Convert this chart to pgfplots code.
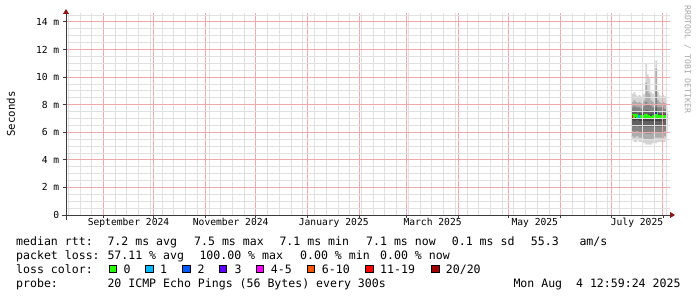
\documentclass[border=0pt]{standalone}
\usepackage{pgfplots}
\pgfplotsset{compat=1.18}
\usepackage{pgfplotstable}
\usepackage{fontspec}
\setmainfont{DejaVu Sans Mono}
\setmonofont{DejaVu Sans Mono}
\usepgfplotslibrary{fillbetween}
\usetikzlibrary{arrows.meta}

\definecolor{mgrid}{RGB}{236,170,170}
\definecolor{ngrid}{RGB}{224,224,224}
\definecolor{arrowred}{RGB}{140,25,25}
\definecolor{axisgray}{RGB}{60,60,60}
\definecolor{loss0}{HTML}{26FF00}
\definecolor{loss1}{HTML}{00B8FF}
\definecolor{loss2}{HTML}{0059FF}
\definecolor{loss3}{HTML}{5E00FF}
\definecolor{loss45}{HTML}{FF00FF}
\definecolor{loss610}{HTML}{FF5500}
\definecolor{loss1119}{HTML}{FF0000}
\definecolor{loss20}{HTML}{A10000}
\definecolor{smokeA}{RGB}{212,212,212}
\definecolor{smokeB}{RGB}{172,172,172}
\definecolor{smokeC}{RGB}{132,132,132}
\definecolor{smokeD}{RGB}{98,98,98}
\definecolor{smokeE}{RGB}{68,68,68}

% days since 1 Sep 2024; values in ms
\pgfplotstableread{
x     t1   b1   t2   b2   t3   b3   t4   b4   t5   b5   med
315.5 8.8  5.4  8.2  5.7  7.8  6.1  7.5  6.5  7.3  6.9  7.15
316.5 8.9  5.3  8.3  5.6  7.9  6.0  7.5  6.4  7.3  6.8  7.20
317.5 8.7  5.3  8.2  5.7  7.8  6.1  7.5  6.5  7.3  6.9  7.20
318.5 8.6  5.4  8.1  5.7  7.8  6.1  7.4  6.5  7.3  6.9  7.15
319.5 8.7  5.3  8.2  5.6  7.8  6.0  7.5  6.4  7.3  6.8  7.15
320.5 8.6  5.3  8.1  5.6  7.7  6.0  7.4  6.4  7.3  6.8  7.15
321.5 8.7  5.2  8.2  5.6  7.8  6.0  7.5  6.4  7.3  6.8  7.15
322.5 8.8  5.2  8.3  5.5  7.9  6.0  7.5  6.4  7.3  6.8  7.15
323.5 11.0 5.1  9.6  5.5  8.2  5.9  7.6  6.4  7.3  6.8  7.20
324.5 10.2 5.1  9.0  5.5  8.0  5.9  7.6  6.4  7.3  6.8  7.15
325.5 9.9  5.1  8.8  5.5  8.0  5.9  7.5  6.4  7.3  6.8  7.10
326.5 8.9  5.1  8.3  5.5  7.9  5.9  7.5  6.4  7.3  6.8  7.10
327.5 8.8  5.2  8.2  5.5  7.8  6.0  7.5  6.4  7.3  6.8  7.10
328.5 8.6  5.2  8.1  5.6  7.8  6.0  7.4  6.4  7.3  6.8  7.15
329.5 11.2 5.2  10.6 5.6  9.0  6.0  7.8  6.4  7.4  6.8  7.35
330.5 8.9  5.3  8.3  5.6  7.8  6.0  7.5  6.4  7.3  6.8  7.15
331.5 8.7  5.3  8.2  5.6  7.8  6.0  7.4  6.4  7.3  6.8  7.15
332.5 8.6  5.3  8.1  5.6  7.8  6.0  7.4  6.4  7.3  6.8  7.10
333.5 8.7  5.3  8.2  5.6  7.8  6.0  7.5  6.4  7.3  6.8  7.15
334.5 8.6  5.3  8.1  5.7  7.7  6.1  7.4  6.5  7.3  6.9  7.15
335.5 8.6  5.4  8.1  5.7  7.7  6.1  7.4  6.5  7.3  6.9  7.10
336.5 8.6  5.4  8.1  5.7  7.7  6.1  7.4  6.5  7.3  6.9  7.10
}\smoke

\begin{document}
\begin{tikzpicture}
\begin{axis}[
  at={(66bp,82bp)}, anchor=south west, scale only axis,
  width=604bp, height=202bp,
  xmin=-22.3, xmax=338.2, ymin=0, ymax=14.64,
  axis lines=left,
  axis on top,
  axis line style={draw=axisgray, line width=0.9bp},
  x axis line style={-{Triangle[length=5bp,width=6bp,color=arrowred,fill=arrowred]}, shorten <=-4bp, shorten >=-5bp},
  y axis line style={-{Triangle[length=5bp,width=6bp,color=arrowred,fill=arrowred]}, shorten <=-5bp, shorten >=-4bp},
  xtick={0,30,61,91,122,153,181,212,242,273,303,334},
  xticklabels={},
  minor xtick={-21,-14,-7,7,14,21,28,35,42,49,56,63,70,77,84,98,105,112,119,126,133,140,147,154,161,168,175,182,189,196,203,210,217,224,231,238,245,252,259,266,280,287,294,301,308,315,322,329,336},
  extra x ticks={15,76,137.5,196.5,257.5,318.5},
  extra x tick labels={September 2024,November 2024,January 2025,March 2025,May 2025,July 2025},
  extra x tick style={grid=none, major tick length=0pt, xticklabel style={yshift=-3bp}},
  ytick={2,4,...,14},
  yticklabels={2 m,4 m,6 m,8 m,10 m,12 m,14 m},
  extra y ticks={0},
  extra y tick labels={0},
  extra y tick style={grid=none},
  minor ytick={0.5,1,1.5,2.5,3,3.5,4.5,5,5.5,6.5,7,7.5,8.5,9,9.5,10.5,11,11.5,12.5,13,13.5,14.5},
  grid=both,
  major grid style={mgrid, line width=1bp},
  minor grid style={ngrid, line width=0.8bp},
  tick align=outside,
  major tick length=3bp, minor tick length=0pt,
  tick style={axisgray, line width=0.8bp},
  ticklabel style={font=\fontsize{9.7}{11}\selectfont, text=black},
  xticklabel style={anchor=north, inner sep=0pt},
  yticklabel style={anchor=east, inner sep=0pt, xshift=-3.5bp},
  ylabel={Seconds},
  ylabel style={at={(axis description cs:-0.0911,0.5)}, anchor=center, font=\fontsize{10.7}{12}\selectfont},
]
\addplot[name path=t1, draw=none, const plot, forget plot] table[x=x,y=t1]{\smoke};
\addplot[name path=b1, draw=none, const plot, forget plot] table[x=x,y=b1]{\smoke};
\addplot[smokeA, draw=none] fill between[of=t1 and b1];
\addplot[name path=t2, draw=none, const plot, forget plot] table[x=x,y=t2]{\smoke};
\addplot[name path=b2, draw=none, const plot, forget plot] table[x=x,y=b2]{\smoke};
\addplot[smokeB, draw=none] fill between[of=t2 and b2];
\addplot[name path=t3, draw=none, const plot, forget plot] table[x=x,y=t3]{\smoke};
\addplot[name path=b3, draw=none, const plot, forget plot] table[x=x,y=b3]{\smoke};
\addplot[smokeC, draw=none] fill between[of=t3 and b3];
\addplot[name path=t4, draw=none, const plot, forget plot] table[x=x,y=t4]{\smoke};
\addplot[name path=b4, draw=none, const plot, forget plot] table[x=x,y=b4]{\smoke};
\addplot[smokeD, draw=none] fill between[of=t4 and b4];
\addplot[name path=t5, draw=none, const plot, forget plot] table[x=x,y=t5]{\smoke};
\addplot[name path=b5, draw=none, const plot, forget plot] table[x=x,y=b5]{\smoke};
\addplot[smokeE, draw=none] fill between[of=t5 and b5];
% median rtt coloured by loss
\addplot[const plot, loss0, line width=2.6bp] table[x=x,y=med]{\smoke};
\addplot[loss1119, line width=2.6bp] coordinates {(315.5,7.15) (316.4,7.15)};
\addplot[loss1, line width=2.6bp] coordinates {(319.0,7.15) (320.3,7.15)};
\addplot[loss3, line width=2.6bp] coordinates {(329.5,7.45) (330.3,7.45)};
\end{axis}

% legend block
\begin{scope}[every node/.style={inner sep=0pt, anchor=base west, font=\fontsize{11.6}{13}\selectfont}]
\node at (16bp,51.5bp) {median rtt:};
\node at (107.3bp,51.5bp) {7.2 ms avg};
\node at (194bp,51.5bp) {7.5 ms max};
\node at (279.3bp,51.5bp) {7.1 ms min};
\node at (366bp,51.5bp) {7.1 ms now};
\node at (451.7bp,51.5bp) {0.1 ms sd};
\node at (530.7bp,51.5bp) {55.3};
\node at (579.3bp,51.5bp) {am/s};

\node at (16bp,37.5bp) {packet loss:};
\node at (107.3bp,37.5bp) {57.11 \% avg};
\node at (199.3bp,37.5bp) {100.00 \% max};
\node at (300bp,37.5bp) {0.00 \% min};
\node at (380bp,37.5bp) {0.00 \% now};

\node at (16bp,23.7bp) {loss color:};
\node at (123.3bp,23.7bp) {0};
\node at (160bp,23.7bp) {1};
\node at (197.3bp,23.7bp) {2};
\node at (234.3bp,23.7bp) {3};
\node at (270.7bp,23.7bp) {4-5};
\node at (321.7bp,23.7bp) {6-10};
\node at (380bp,23.7bp) {11-19};
\node at (445.7bp,23.7bp) {20/20};

\node at (16bp,9.8bp) {probe:};
\node at (107.3bp,9.8bp) {20 ICMP Echo Pings (56 Bytes) every 300s};
\node at (513.3bp,9.8bp) {Mon Aug~~4 12:59:24 2025};
\end{scope}
\begin{scope}[every node/.style={draw=black, line width=0.7bp, minimum size=7.3bp, inner sep=0pt, anchor=center}]
\node[fill=loss0]    at (112.5bp,28.3bp) {};
\node[fill=loss1]    at (149.2bp,28.3bp) {};
\node[fill=loss2]    at (186.2bp,28.3bp) {};
\node[fill=loss3]    at (222.8bp,28.3bp) {};
\node[fill=loss45]   at (259.5bp,28.3bp) {};
\node[fill=loss610]  at (310.6bp,28.3bp) {};
\node[fill=loss1119] at (369.2bp,28.3bp) {};
\node[fill=loss20]   at (435.2bp,28.3bp) {};
\end{scope}
\node[rotate=-90, anchor=west, inner sep=0pt, text=black!35, font=\fontsize{8.2}{9}\selectfont] at (687.5bp,292bp) {RRDTOOL / TOBI OETIKER};
\pgfresetboundingbox
\useasboundingbox (0,0) rectangle (697bp,297bp);
\end{tikzpicture}
\end{document}
